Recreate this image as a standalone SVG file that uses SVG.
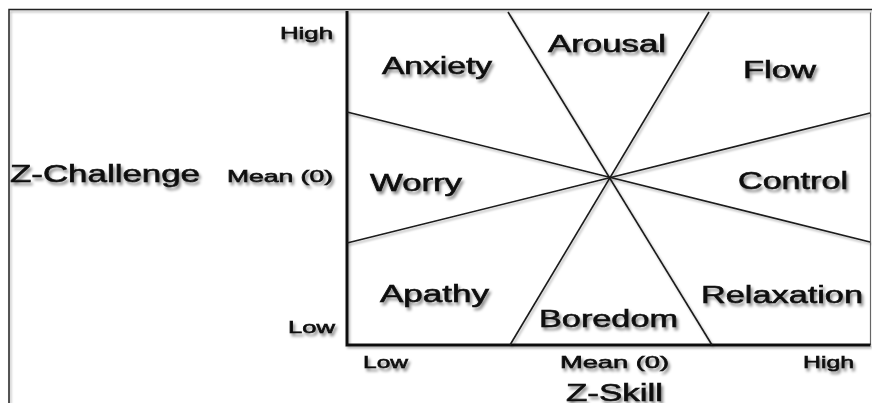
<svg xmlns="http://www.w3.org/2000/svg" width="872" height="403" viewBox="0 0 872 403">
<defs>
<filter id="sh" x="-10%" y="-30%" width="130%" height="170%">
<feDropShadow dx="2" dy="3" stdDeviation="1.5" flood-color="#000" flood-opacity="0.45"/>
</filter>
<filter id="lsh" x="-5%" y="-5%" width="110%" height="110%">
<feDropShadow dx="1.5" dy="2" stdDeviation="1.2" flood-color="#000" flood-opacity="0.3"/>
</filter>
<style>
text{font-family:"Liberation Sans",Arial,sans-serif;fill:#111;stroke:#111;stroke-width:0.6;filter:url(#sh)}
.big{font-size:23.5px}
.sm{font-size:17px}
.div{stroke:#1a1a1a;stroke-width:1.6;fill:none}
</style>
</defs>
<rect width="872" height="403" fill="#fff"/>
<g id="frame">
<path d="M9,403 V9.5 H872" fill="none" stroke="#222" stroke-width="1.5" filter="url(#lsh)"/>
</g>
<g id="plot">
<path d="M870.5,12.5 V345" fill="none" stroke="#666" stroke-width="1.2"/>
<path d="M347,12.5 H870.5" fill="none" stroke="#111" stroke-width="2.5" filter="url(#lsh)"/>
<path d="M347,11 V345 H870.5" fill="none" stroke="#111" stroke-width="3" filter="url(#lsh)"/>
</g>
<g id="connectors" filter="url(#lsh)">
<line class="div" x1="508" y1="12" x2="712" y2="345"/>
<line class="div" x1="709" y1="12" x2="510" y2="345"/>
<line class="div" x1="347" y1="112" x2="870" y2="242"/>
<line class="div" x1="347" y1="243" x2="870" y2="113"/>
</g>
<g id="anxiety"><text class="big" x="382" y="74" textLength="110" lengthAdjust="spacingAndGlyphs">Anxiety</text></g>
<g id="arousal"><text class="big" x="548" y="52" textLength="118" lengthAdjust="spacingAndGlyphs">Arousal</text></g>
<g id="flow"><text class="big" x="743" y="78" textLength="73" lengthAdjust="spacingAndGlyphs">Flow</text></g>
<g id="worry"><text class="big" x="370" y="191" textLength="92" lengthAdjust="spacingAndGlyphs">Worry</text></g>
<g id="control"><text class="big" x="738" y="189" textLength="110" lengthAdjust="spacingAndGlyphs">Control</text></g>
<g id="apathy"><text class="big" x="380" y="302" textLength="109" lengthAdjust="spacingAndGlyphs">Apathy</text></g>
<g id="boredom"><text class="big" x="539" y="327" textLength="139" lengthAdjust="spacingAndGlyphs">Boredom</text></g>
<g id="relaxation"><text class="big" x="701" y="303" textLength="162" lengthAdjust="spacingAndGlyphs">Relaxation</text></g>
<g id="axis-y">
<text class="big" x="10" y="182" textLength="190" lengthAdjust="spacingAndGlyphs">Z-Challenge</text>
<text class="sm" x="280" y="39" textLength="53" lengthAdjust="spacingAndGlyphs">High</text>
<text class="sm" x="227" y="182" textLength="106" lengthAdjust="spacingAndGlyphs">Mean (0)</text>
<text class="sm" x="288" y="333" textLength="47" lengthAdjust="spacingAndGlyphs">Low</text>
</g>
<g id="axis-x">
<text class="sm" x="363" y="368" textLength="45" lengthAdjust="spacingAndGlyphs">Low</text>
<text class="sm" x="560" y="368" textLength="109" lengthAdjust="spacingAndGlyphs">Mean (0)</text>
<text class="sm" x="803" y="368" textLength="51" lengthAdjust="spacingAndGlyphs">High</text>
<text class="big" x="566" y="401" textLength="97" lengthAdjust="spacingAndGlyphs">Z-Skill</text>
</g>
</svg>
